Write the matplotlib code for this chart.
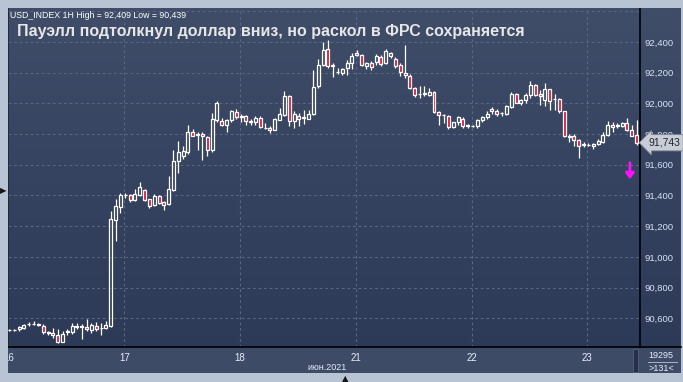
import numpy as np
import matplotlib.pyplot as plt
from matplotlib.patches import Rectangle
from matplotlib.lines import Line2D
from matplotlib.colors import LinearSegmentedColormap
from matplotlib.transforms import blended_transform_factory

W, H = 683, 382  # output size in pixels

# hourly candles, USD index, 16-23 June 2021
opens = [90525, 90522, 90528, 90536, 90560, 90562, 90562, 90547, 90508, 90504,
         90490, 90447, 90512, 90508, 90543, 90547, 90541, 90523, 90547, 90536,
         90538, 90551, 91240, 91327, 91400, 91400, 91370, 91406, 91434, 91374,
         91335, 91395, 91359, 91341, 91434, 91623, 91655, 91681, 91814, 91793,
         91803, 91781, 91699, 91889, 91882, 91856, 91893, 91943, 91915, 91915,
         91885, 91876, 91904, 91842, 91840, 91829, 91893, 91926, 92045, 91882,
         91915, 91905, 91900, 91932, 92110, 92251, 92355, 92251, 92201, 92197,
         92229, 92262, 92330, 92315, 92244, 92262, 92272, 92300, 92262, 92305,
         92288, 92251, 92197, 92179, 92099, 92060, 92062, 92056, 92073, 91943,
         91921, 91915, 91846, 91876, 91900, 91855, 91852, 91850, 91889, 91911,
         91963, 91947, 91935, 91932, 91976, 92062, 92002, 92019, 92056, 92121,
         92062, 92023, 92093, 92025, 92030, 91947, 91790, 91790, 91764, 91731,
         91728, 91720, 91736, 91746, 91796, 91861, 91855, 91850, 91872, 91829,
         91796]
highs = [90532, 90530, 90550, 90565, 90575, 90584, 90572, 90560, 90520, 90536,
         90530, 90519, 90530, 90569, 90569, 90560, 90595, 90569, 90573, 90569,
         90580, 91298, 91378, 91418, 91415, 91410, 91445, 91490, 91443, 91380,
         91410, 91406, 91365, 91525, 91694, 91753, 91720, 91860, 91830, 91810,
         91815, 91790, 91940, 92017, 91905, 91900, 91955, 91960, 91930, 91925,
         91900, 91915, 91915, 91870, 91850, 91905, 91970, 92077, 92056, 91947,
         91935, 91954, 91955, 92215, 92288, 92402, 92409, 92260, 92230, 92230,
         92283, 92330, 92345, 92322, 92270, 92275, 92320, 92315, 92355, 92335,
         92300, 92260, 92380, 92190, 92105, 92114, 92110, 92100, 92080, 91950,
         91930, 91925, 91880, 91915, 91910, 91865, 91860, 91895, 91920, 91950,
         91975, 91960, 91945, 91990, 92075, 92070, 92030, 92065, 92142, 92125,
         92088, 92132, 92095, 92060, 92035, 91950, 91800, 91800, 91770, 91745,
         91740, 91740, 91770, 91810, 91883, 91875, 91870, 91880, 91904, 91860,
         91889]
lows = [90518, 90515, 90515, 90530, 90550, 90555, 90548, 90500, 90490, 90470,
        90439, 90443, 90490, 90497, 90530, 90465, 90515, 90504, 90519, 90493,
        90530, 90545, 91103, 91288, 91385, 91360, 91365, 91395, 91363, 91320,
        91330, 91341, 91304, 91335, 91430, 91547, 91640, 91670, 91785, 91699,
        91630, 91660, 91680, 91880, 91850, 91811, 91880, 91900, 91880, 91860,
        91860, 91860, 91840, 91830, 91807, 91825, 91890, 91919, 91850, 91840,
        91850, 91867, 91895, 91925, 92100, 92246, 92230, 92173, 92190, 92185,
        92186, 92225, 92305, 92240, 92225, 92215, 92250, 92240, 92255, 92295,
        92230, 92180, 92164, 92090, 92040, 92034, 92050, 92050, 91940, 91861,
        91870, 91835, 91840, 91860, 91840, 91840, 91845, 91840, 91880, 91900,
        91930, 91920, 91920, 91925, 91970, 92000, 91990, 92000, 92034, 92050,
        91991, 91984, 91958, 91955, 91940, 91780, 91750, 91720, 91645, 91715,
        91720, 91705, 91730, 91740, 91790, 91815, 91840, 91845, 91817, 91785,
        91731]
closes = [90522, 90526, 90541, 90558, 90562, 90563, 90558, 90508, 90506, 90493,
          90447, 90497, 90515, 90547, 90547, 90545, 90530, 90556, 90530, 90536,
          90556, 91244, 91330, 91400, 91401, 91370, 91409, 91456, 91370, 91331,
          91395, 91348, 91337, 91439, 91623, 91681, 91688, 91814, 91790, 91803,
          91785, 91699, 91898, 92002, 91856, 91893, 91947, 91911, 91911, 91883,
          91880, 91904, 91846, 91840, 91829, 91898, 91930, 92045, 91882, 91932,
          91900, 91908, 91932, 92106, 92251, 92348, 92244, 92240, 92203, 92223,
          92262, 92309, 92315, 92251, 92262, 92236, 92309, 92257, 92342, 92327,
          92244, 92201, 92184, 92099, 92051, 92062, 92064, 92071, 91943, 91926,
          91923, 91846, 91876, 91911, 91855, 91857, 91854, 91889, 91911, 91932,
          91947, 91932, 91937, 91984, 92062, 92002, 92023, 92056, 92121, 92056,
          92045, 92093, 92013, 92030, 91947, 91785, 91782, 91764, 91720, 91733,
          91730, 91736, 91757, 91796, 91861, 91846, 91857, 91872, 91829, 91790,
          91743]

day_labels = ['16', '17', '18', '21', '22', '23']
bars_per_day = 24
price_ticks = [90600, 90800, 91000, 91200, 91400, 91600, 91800, 92000, 92200, 92400]
grid_levels = price_ticks + [92600]
hi_text = 'USD_INDEX 1H High = 92,409 Low = 90,439'
title = 'Пауэлл подтолкнул доллар вниз, но раскол в ФРС сохраняется'

FONT = ['Liberation Sans', 'DejaVu Sans']
BORDER = '#b8c4d4'
TOP_BG = '#3f4d69'
BOT_BG = '#2b3856'
PANEL = '#3e4b67'
RED = '#e2122e'


def fx(px):
    return px / W


def fy(py):
    return 1 - py / H


plt.rcParams['font.family'] = FONT
fig = plt.figure(figsize=(W / 100, H / 100), dpi=100, facecolor=BORDER)

# dark background with a soft vertical gradient
bg = fig.add_axes([fx(7.5), fy(373), fx(680.5) - fx(7.5), fy(8.3) - fy(373)])
bg.set_zorder(-3)
cmap = LinearSegmentedColormap.from_list('bg', [TOP_BG, BOT_BG])
bg.imshow(np.linspace(0, 1, 256).reshape(-1, 1), cmap=cmap, aspect='auto',
          extent=[0, 1, 0, 1], origin='upper')
bg.axis('off')

# lighter time panel at the bottom
fig.add_artist(Rectangle((fx(7.5), fy(373)), fx(680.5) - fx(7.5), fy(347) - fy(373),
                         transform=fig.transFigure, fc=PANEL, ec='none', zorder=-2))

ax = fig.add_axes([fx(8), fy(347), fx(640) - fx(8), fy(9) - fy(347)])
ax.set_zorder(2)
ax.set_facecolor('none')

x = np.arange(len(opens))
o = np.array(opens)
hgh = np.array(highs)
low = np.array(lows)
c = np.array(closes)
up = c >= o
top = np.maximum(o, c)
bot = np.minimum(o, c)

# grid
for lvl in grid_levels:
    ax.axhline(lvl, color='#58667f', lw=0.8, ls=(0, (2.5, 2.5)), zorder=1)
day_pos = [i * bars_per_day for i in range(len(day_labels))]
for d in day_pos[1:]:
    ax.axvline(d - 0.2, color='#58667f', lw=0.8, ls=(0, (2.5, 2.5)), zorder=1)

# candles: wicks above and below the body, then the body
ax.vlines(x, top, hgh, color='white', lw=0.9, zorder=3)
ax.vlines(x, low, bot, color='white', lw=0.9, zorder=3)
ax.bar(x[up], (c - o)[up], bottom=o[up], width=0.62, facecolor='none',
       edgecolor='white', lw=0.9, zorder=4)
ax.bar(x[~up], (o - c)[~up], bottom=c[~up], width=0.62, facecolor=RED,
       edgecolor='white', lw=0.9, zorder=4)

ax.set_xlim(-0.3, 130.7)
ax.set_ylim(90413, 92614)

ax.yaxis.tick_right()
ax.set_yticks(price_ticks)
ax.set_yticklabels([f'{v:,}' for v in price_ticks])
ax.tick_params(axis='y', length=0, pad=3, labelsize=6.8, labelcolor='#d6e2f4')
ax.set_xticks([d - 0.2 for d in day_pos])
ax.set_xticklabels(day_labels)
ax.tick_params(axis='x', length=0, pad=4, labelsize=7, labelcolor='#e8eef8')

ax.spines['top'].set_visible(False)
ax.spines['left'].set_color('#1c2436')
ax.spines['right'].set_color('black')
ax.spines['bottom'].set_color('black')
for side in ['left', 'right', 'bottom']:
    ax.spines[side].set_linewidth(1.2)
fig.add_artist(Line2D([fx(640), fx(680.5)], [fy(347), fy(347)], color='black', lw=1.2))

# last price tag
tr = blended_transform_factory(ax.transAxes, ax.transData)
ax.text(1.013, closes[-1], f'{closes[-1]:,}', transform=tr, ha='left', va='center',
        fontsize=7.5, color='#1d2333', clip_on=False, zorder=6,
        bbox=dict(boxstyle='larrow,pad=0.3', fc='#c9cdd5', ec='#7f8591', lw=0.6))

# magenta signal arrow
ax.annotate('', xy=(0.984, 0.496), xytext=(0.984, 0.545), xycoords='axes fraction',
            arrowprops=dict(arrowstyle='-|>,head_width=0.25,head_length=0.35',
                            color='#ff10ff', lw=2.0, shrinkA=0, shrinkB=0), zorder=6)

# texts
fig.text(fx(10), fy(15), hi_text, fontsize=6.3, color='white', va='center')
fig.text(fx(17), fy(31.5), title, fontsize=11.5, fontweight='bold', color='#e6e6e6',
         va='center')
fig.text(fx(327), fy(367), 'июн.2021', fontsize=6.5, color='#e8eef8', ha='center',
         va='center')
fig.text(fx(661), fy(355), '19295', fontsize=6.5, color='#e8eef8', ha='center', va='center')
fig.text(fx(661), fy(368.5), '>131<', fontsize=6.5, color='#e8eef8', ha='center', va='center')
fig.add_artist(Line2D([fx(648), fx(677)], [fy(361.7), fy(361.7)], color='#a9b3c4', lw=0.7))

# scroll thumb in the time panel
fig.add_artist(Rectangle((fx(633), fy(372)), fx(5), fy(349) - fy(372),
                         transform=fig.transFigure, fc='#26304a', ec='#55617a', lw=0.6))

# light frame on the left hides the cut part of the first day label
fig.add_artist(Rectangle((0, 0), fx(7.5), 1, transform=fig.transFigure, fc=BORDER,
                         ec='none', zorder=5))
fig.text(fx(0), fy(191), '▶', fontsize=6, color='#151515', va='center', zorder=6,
         family='DejaVu Sans')
fig.text(fx(345), fy(379), '▲', fontsize=6, color='#151515', ha='center', va='center',
         zorder=6, family='DejaVu Sans')

fig.savefig('out.png', dpi=100, facecolor=BORDER)
